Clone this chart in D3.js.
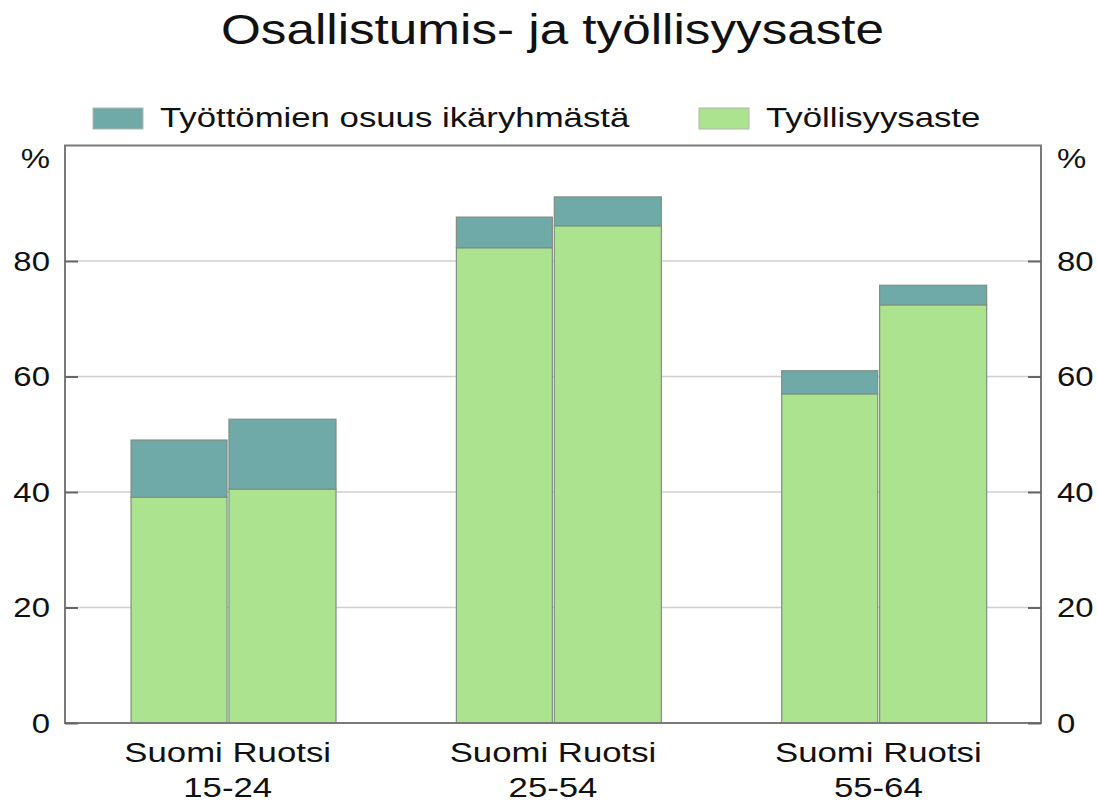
<!DOCTYPE html>
<html>
<head>
<meta charset="utf-8">
<script src="https://cdn.jsdelivr.net/npm/d3@7"></script>
<style>
  body { margin: 0; background: #fff; }
  text { font-family: "Liberation Sans", Arial, sans-serif; fill: #111; }
</style>
</head>
<body>
<div id="chart"></div>
<script>
// data
const groups = ['15-24', '25-54', '55-64'];
const countries = ['Suomi', 'Ruotsi'];
const seriesNames = ['Työllisyysaste', 'Työttömien osuus ikäryhmästä'];
const suomiEmployment = [39.1, 82.3, 57.0];
const ruotsiEmployment = [40.5, 86.1, 72.4];
const suomiUnemployed = [9.9, 5.3, 4.0];
const ruotsiUnemployed = [12.1, 5.0, 3.4];
const yTicks = [0, 20, 40, 60, 80];

const width = 1097, height = 802;
const plotLeft = 65, plotRight = 1041, plotTop = 145.5, plotBottom = 723;
const sx = 1.22; // text is drawn a bit wide
const colors = { 'Työllisyysaste': '#ace38f', 'Työttömien osuus ikäryhmästä': '#6fa9a8' };

// rows for d3.stack
const rows = [];
groups.forEach((g, i) => {
    rows.push({ group: g, country: 'Suomi', 'Työllisyysaste': suomiEmployment[i], 'Työttömien osuus ikäryhmästä': suomiUnemployed[i] });
    rows.push({ group: g, country: 'Ruotsi', 'Työllisyysaste': ruotsiEmployment[i], 'Työttömien osuus ikäryhmästä': ruotsiUnemployed[i] });
});
const stacked = d3.stack().keys(seriesNames)(rows);

const x = d3.scaleBand().domain(groups).range([plotLeft, plotRight]).padding(0);
// bar offset/width inside a group band (Suomi is narrower than Ruotsi in the original)
const barPos = { Suomi: [0.203, 0.295], Ruotsi: [0.504, 0.329] };
const y = d3.scaleLinear().domain([0, 100]).range([plotBottom, plotTop]);

const svg = d3.select('#chart').append('svg')
    .attr('width', width)
    .attr('height', height);

const addText = (str, px, py, size, anchor) => svg.append('text')
    .attr('transform', `translate(${px},${py}) scale(${sx},1)`)
    .attr('text-anchor', anchor)
    .style('font-size', size + 'px')
    .text(str);

// title
addText('Osallistumis- ja työllisyysaste', width / 2 + 4, 44, 42, 'middle');

// grid
svg.append('g').selectAll('line')
    .data(yTicks.filter(t => t > 0))
    .enter().append('line')
    .attr('x1', plotLeft).attr('x2', plotRight)
    .attr('y1', d => y(d)).attr('y2', d => y(d))
    .attr('stroke', '#cfcfcf').attr('stroke-width', 1.5);

// bars
const layers = svg.append('g').selectAll('g')
    .data(stacked)
    .enter().append('g')
    .attr('fill', d => colors[d.key]);

layers.selectAll('rect')
    .data(d => d)
    .enter().append('rect')
    .attr('x', d => x(d.data.group) + barPos[d.data.country][0] * x.bandwidth())
    .attr('width', d => barPos[d.data.country][1] * x.bandwidth())
    .attr('y', d => y(d[1]))
    .attr('height', d => y(d[0]) - y(d[1]))
    .attr('stroke', '#7f8f80')
    .attr('stroke-width', 1.2);

// frame
svg.append('rect')
    .attr('x', plotLeft).attr('y', plotTop)
    .attr('width', plotRight - plotLeft).attr('height', plotBottom - plotTop)
    .attr('fill', 'none').attr('stroke', '#7a7a7a').attr('stroke-width', 2);

// inward ticks on both sides
const leftAxis = d3.axisRight(y).tickValues(yTicks).tickSize(13).tickFormat('');
const rightAxis = d3.axisLeft(y).tickValues(yTicks).tickSize(13).tickFormat('');
svg.append('g').attr('transform', `translate(${plotLeft},0)`).call(leftAxis)
    .call(g => g.select('.domain').remove())
    .selectAll('line').attr('stroke', '#666').attr('stroke-width', 2);
svg.append('g').attr('transform', `translate(${plotRight},0)`).call(rightAxis)
    .call(g => g.select('.domain').remove())
    .selectAll('line').attr('stroke', '#666').attr('stroke-width', 2);

// tick labels
yTicks.forEach(t => {
    addText(String(t), 50, y(t) + 9.5, 27, 'end');
    addText(String(t), 1057, y(t) + 9.5, 27, 'start');
});
addText('%', 50, 168, 27, 'end');
addText('%', 1057, 168, 27, 'start');

// category labels
groups.forEach(g => {
    addText(countries.join(' '), x(g) + x.bandwidth() * 0.5, 762, 28.5, 'middle');
    addText(g, x(g) + x.bandwidth() * 0.5, 797, 28.5, 'middle');
});

// legend
const legendItems = [
    { name: 'Työttömien osuus ikäryhmästä', x: 93 },
    { name: 'Työllisyysaste', x: 699 }
];
legendItems.forEach(item => {
    svg.append('rect')
        .attr('x', item.x).attr('y', 108)
        .attr('width', 50).attr('height', 21)
        .attr('fill', colors[item.name])
        .attr('stroke', '#b0b8b0').attr('stroke-width', 1);
    addText(item.name, item.x + 67, 127, 28.5, 'start');
});
</script>
</body>
</html>
